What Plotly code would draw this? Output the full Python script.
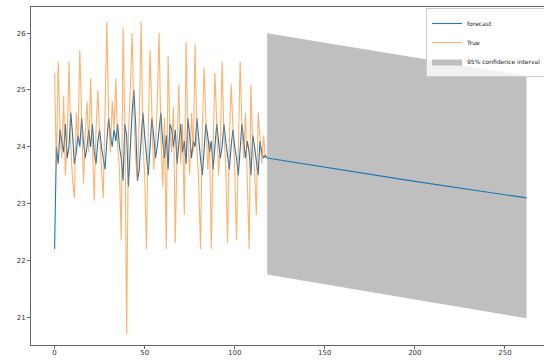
import plotly.graph_objects as go

# ---- data ----
true_vals = [
    25.3, 23.6, 25.5, 24.3, 23.8, 24.9, 23.5, 24.2, 25.5, 24.0,
    23.4, 23.1, 24.6, 24.1, 25.7, 24.4, 23.35, 24.2, 24.8, 23.9,
    25.2, 24.0, 23.05, 24.3, 25.0, 24.2, 23.7, 23.1, 24.6, 26.2,
    24.5, 23.9, 24.8, 24.3, 25.2, 24.0, 23.6, 22.35, 26.1, 24.4,
    20.7, 24.2, 25.0, 26.0, 24.6, 23.8, 23.4, 24.5, 26.2, 24.1,
    23.5, 22.2, 24.3, 25.7, 24.6, 23.6, 24.0, 24.8, 26.0, 24.2,
    23.3, 24.5, 22.2, 25.6, 24.3, 23.9, 24.7, 22.3, 24.0, 25.1,
    23.7, 24.4, 22.8, 25.85, 24.2, 23.5, 24.6, 23.9, 25.8, 24.0,
    23.4, 22.2, 24.3, 25.4, 24.5, 23.6, 24.1, 22.2, 24.0, 25.3,
    24.4, 23.5, 24.0, 25.5, 24.2, 23.7, 22.3, 24.1, 25.1, 24.3,
    23.6, 22.35, 24.2, 25.5, 24.4, 23.8, 24.6, 23.5, 22.2, 25.1,
    24.0, 23.6, 22.8, 24.6, 24.1, 23.7, 24.2, 23.8,
]
pred_vals = [
    22.2, 24.0, 23.7, 24.3, 24.1, 23.9, 24.4, 23.8, 24.0, 24.6,
    24.2, 23.7, 23.9, 24.2, 24.0, 24.5, 24.1, 23.8, 24.0, 24.3,
    24.0, 24.4, 23.9, 23.7, 24.1, 24.3, 24.0, 23.8, 23.6, 24.1,
    24.5, 24.2, 24.0, 24.3, 24.1, 24.4, 24.0, 23.8, 23.4, 24.4,
    24.2, 23.3, 24.0, 24.6, 25.0, 24.4, 23.4, 23.6, 24.1, 24.6,
    24.2, 23.9, 23.5, 24.0, 24.5, 24.2, 23.8, 24.0, 24.3, 24.6,
    24.1, 23.8, 24.2, 23.6, 24.4, 24.3, 24.0, 24.3, 23.7, 24.0,
    24.4, 23.9, 24.1, 23.7, 24.5, 24.2, 23.8, 24.1, 24.0, 24.5,
    24.1, 23.8, 23.5, 24.0, 24.4, 24.2, 23.9, 24.1, 23.6, 24.0,
    24.4, 24.1, 23.8, 24.0, 24.4, 24.1, 23.8, 23.6, 24.0, 24.3,
    24.0, 23.8, 23.5, 24.0, 24.4, 24.1, 23.8, 24.1, 23.9, 23.5,
    24.2, 24.0, 23.7, 23.5, 24.1, 23.9, 23.8, 23.85,
]
history_x = list(range(len(true_vals)))

forecast_x = [118, 150, 200, 262]
forecast_vals = [23.8, 23.64, 23.39, 23.1]
ci_upper = [26.0, 25.83, 25.57, 25.25]
ci_lower = [21.75, 21.58, 21.31, 20.98]

x_ticks = [0, 50, 100, 150, 200, 250]
y_ticks = [21, 22, 23, 24, 25, 26]

fig = go.Figure()

# confidence band
fig.add_trace(go.Scatter(
    x=forecast_x + forecast_x[::-1],
    y=ci_upper + ci_lower[::-1],
    fill="toself", fillcolor="rgb(191,191,191)",
    line=dict(width=0), mode="lines",
    name="95% confidence interval", legendrank=3, hoverinfo="skip",
))
# forecast (in-sample + out-of-sample)
fig.add_trace(go.Scatter(
    x=history_x + forecast_x, y=pred_vals + forecast_vals,
    mode="lines", line=dict(color="#1f77b4", width=1.1),
    name="forecast", legendrank=1,
))
# true values
fig.add_trace(go.Scatter(
    x=history_x, y=true_vals,
    mode="lines", line=dict(color="#ff7f0e", width=1.1), opacity=0.6,
    name="True", legendrank=2,
))

axis_common = dict(
    showgrid=False, zeroline=False, showline=True, linecolor="#666",
    linewidth=1, ticks="outside", ticklen=3, tickcolor="#666",
    tickfont=dict(family="DejaVu Sans", size=7, color="#333"),
)
fig.update_xaxes(range=[-13.1, 271.7], tickvals=x_ticks, mirror=True,
                 ticklabelstandoff=-2, **axis_common)
fig.update_yaxes(range=[20.51, 26.46], tickvals=y_ticks, mirror=False, **axis_common)

fig.update_layout(
    width=544, height=360,
    margin=dict(l=31, r=0, t=7, b=15, autoexpand=False),
    paper_bgcolor="white", plot_bgcolor="white",
    showlegend=True,
    legend=dict(
        x=0.77, y=0.997, xanchor="left", yanchor="top",
        bgcolor="rgba(255,255,255,0.8)", bordercolor="#ccc", borderwidth=1,
        font=dict(family="DejaVu Sans", size=6, color="#222"),
        tracegroupgap=0, itemwidth=30,
    ),
)

fig.write_html("out.html", config={"displayModeBar": False},
               post_script="document.body.style.margin='0';")
